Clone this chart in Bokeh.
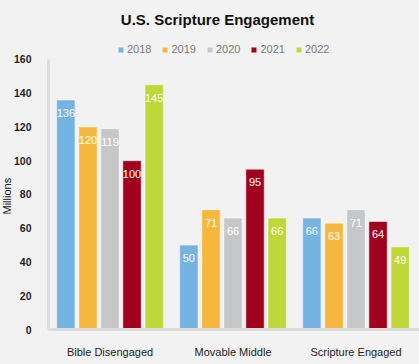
import numpy as np
from bokeh.plotting import figure
from bokeh.models import ColumnDataSource, Range1d, FixedTicker, Label, Title
from bokeh.transform import dodge
from bokeh.core.properties import value
from bokeh.embed import file_html
from bokeh.resources import INLINE

# ---- data ----
categories = ["Bible Disengaged", "Movable Middle", "Scripture Engaged"]
years = ["2018", "2019", "2020", "2021", "2022"]
v2018 = [136, 50, 66]
v2019 = [120, 71, 63]
v2020 = [119, 66, 71]
v2021 = [100, 95, 64]
v2022 = [145, 66, 49]
y_ticks = [0, 20, 40, 60, 80, 100, 120, 140, 160]
title_text = "U.S. Scripture Engagement"
y_label = "Millions"

series = [v2018, v2019, v2020, v2021, v2022]
colors = ["#74b3e2", "#f6b73f", "#c6c7c9", "#a1001f", "#bdd838"]

BG = "#f2f2f2"
SANS = "Liberation Sans"

x = np.arange(len(categories)) + 0.5
data = {"x": x, "cat": categories}
for yr, vals in zip(years, series):
    data["v" + yr] = vals
    data["t" + yr] = [str(v) for v in vals]
src = ColumnDataSource(data)

# frame spans from the top of the canvas; the axis is bounded to 0..160
p = figure(width=419, height=364, output_backend="svg", toolbar_location=None,
           x_range=Range1d(0, 3.016), y_range=Range1d(0, 194.96),
           min_border_left=48, min_border_right=0, min_border_top=0,
           min_border_bottom=35, background_fill_color=BG,
           border_fill_color=BG, outline_line_color=None)
p.grid.visible = False

offsets = [-0.359, -0.179, 0.0, 0.179, 0.359]
for yr, c, off in zip(years, colors, offsets):
    p.vbar(x=dodge("x", off), top="v" + yr, width=0.149, source=src,
           fill_color=c, line_color="#ffffff", line_alpha=0.5, line_width=1,
           legend_label=yr)
    p.text(x=dodge("x", off), y="v" + yr, text="t" + yr, source=src,
           text_align="center", text_baseline="middle", y_offset=13,
           text_color="white", text_font=value(SANS),
           text_font_size="11px")

for ax in (p.xaxis[0], p.yaxis[0]):
    ax.axis_line_color = "#dcdcdc"
    ax.axis_line_width = 3
    ax.major_tick_line_color = None
    ax.minor_tick_line_color = None
    ax.major_label_text_color = "#1e1e1e"
    ax.major_label_text_font = SANS

p.xaxis.ticker = FixedTicker(ticks=list(x))
p.xaxis.major_label_overrides = {float(xi): c for xi, c in zip(x, categories)}
p.xaxis.major_label_text_font_size = "11px"
p.xaxis.major_label_standoff = 10

p.yaxis.ticker = FixedTicker(ticks=y_ticks)
p.yaxis.bounds = (0, 160)
p.yaxis.major_label_text_font_size = "10.5px"
p.yaxis.major_label_text_font_style = "bold"
p.yaxis.major_label_standoff = 11

ylab = Title(text=y_label, align="left", offset=115, standoff=-4,
             text_font=SANS, text_font_size="11px", text_font_style="normal",
             text_color="#1e1e1e")
p.add_layout(ylab, "left")

p.add_layout(Label(x=1.374, y=183.7, text=title_text, text_align="center",
                   text_baseline="middle", text_font=SANS,
                   text_font_size="15px", text_font_style="bold",
                   text_color="#111111"))

lg = p.legend[0]
lg.orientation = "horizontal"
lg.location = (69, 274)
lg.glyph_width = 7
lg.glyph_height = 7
lg.label_standoff = 3
lg.spacing = 10
lg.padding = 0
lg.margin = 0
lg.label_height = 12
lg.border_line_color = None
lg.background_fill_alpha = 0
lg.label_text_font = SANS
lg.label_text_font_size = "11px"
lg.label_text_color = "#7a7a7a"

html = file_html(p, INLINE)
html = html.replace("</head>", "<style>html,body{background:#f2f2f2;}</style></head>")
open("out.html", "w").write(html)
